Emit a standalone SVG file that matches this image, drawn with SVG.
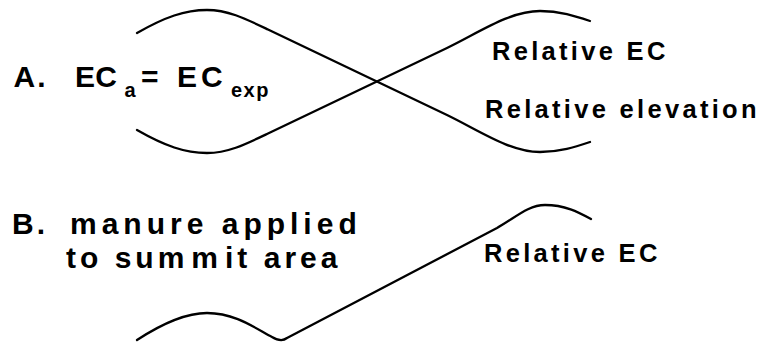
<svg xmlns="http://www.w3.org/2000/svg" width="764" height="343" viewBox="0 0 764 343">
<style>
.t{font-family:"Liberation Sans",Arial,sans-serif;font-weight:bold;fill:#000}
.big{font-size:30px}
.sub{font-size:20px}
.lbl{font-size:25.5px;letter-spacing:3.3px}
.line{fill:none;stroke:#000;stroke-width:2.3;stroke-linecap:round;stroke-linejoin:round}
</style>
<rect width="764" height="343" fill="#fff"/>
<g id="connectors">
<path id="curveA-ec" class="line" d="M137,33 C165,17 185,10 207,10 C228,10 245,18.5 268,29.5 L447,115 C480,131 510,152 540,152 C560,152 575,147 590,142"/>
<path id="curveA-elev" class="line" d="M137,130 C165,146 185,153 207,153 C228,153 245,144.5 268,133.5 L447,48 C480,32 510,11 540,11 C560,11 575,16 590,21"/>
<path id="curveB-ec" class="line" d="M137,340 C160,325 185,313 207,313 C235,313 255,328 272,337 C277,340 282,342 287,338 L497,228 C515,218 528,205 545,205 C565,205 578,212 591,219"/>
</g>
<g id="labelA">
<text class="t big" x="13.5" y="87" style="letter-spacing:2px">A.</text>
<text class="t big" x="75 95.2" y="87">EC</text>
<text class="t sub" x="124.5" y="97">a</text>
<text class="t big" x="141" y="87">=</text>
<text class="t big" x="177 201" y="87">EC</text>
<text class="t sub" x="231" y="97" style="letter-spacing:1.5px">exp</text>
</g>
<g id="labelA-ec"><text class="t lbl" x="492" y="60">Relative EC</text></g>
<g id="labelA-elev"><text class="t lbl" x="485" y="118">Relative elevation</text></g>
<g id="labelB">
<text class="t big" x="12" y="234" style="letter-spacing:3px">B.</text>
<text class="t big" x="70" y="234" style="letter-spacing:5px">manure applied</text>
<text class="t big" x="66" y="268" style="letter-spacing:4px">to sum<tspan dx="3">m</tspan><tspan dx="3">it area</tspan></text>
</g>
<g id="labelB-ec"><text class="t lbl" x="484" y="262">Relative EC</text></g>
</svg>
